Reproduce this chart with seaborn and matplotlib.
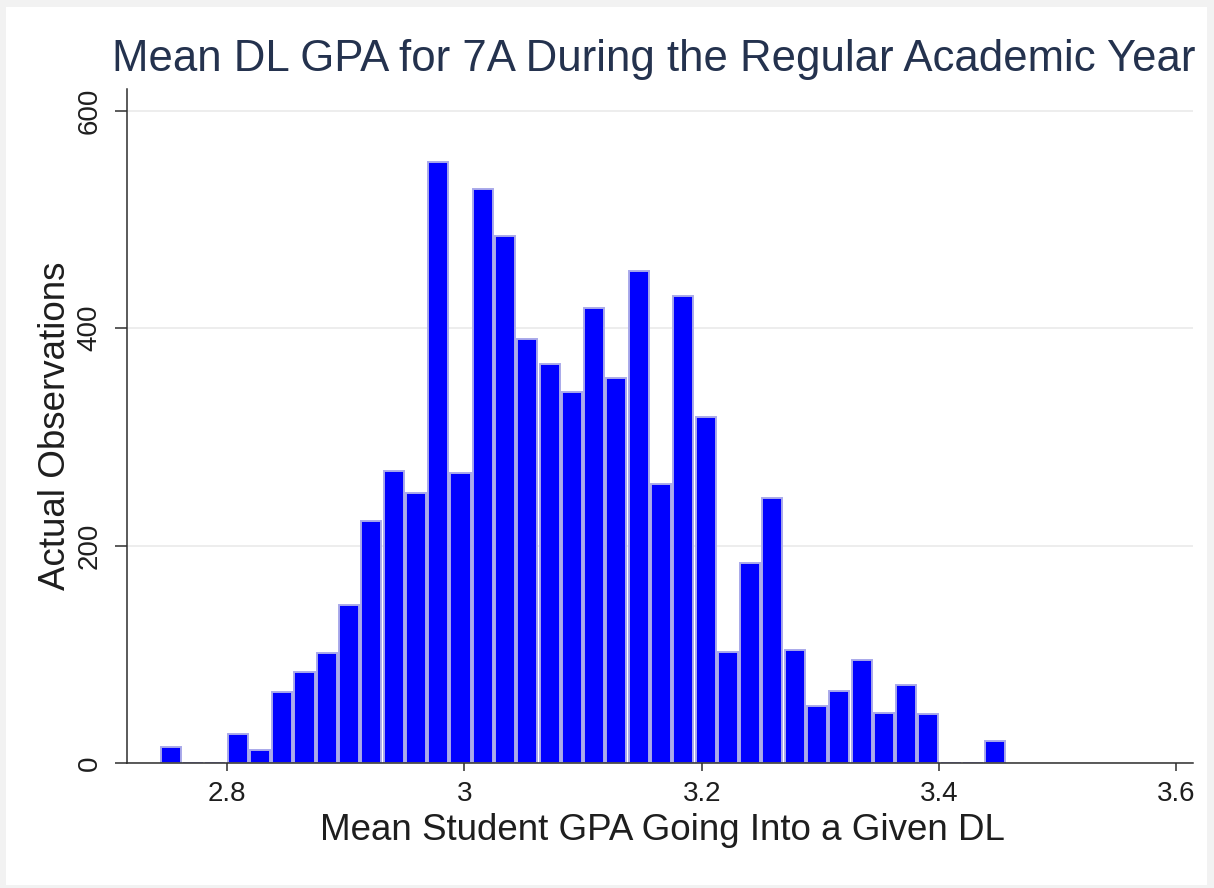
import numpy as np
import pandas as pd
import matplotlib
matplotlib.use("Agg")
import matplotlib.pyplot as plt
import seaborn as sns
from matplotlib.patches import Rectangle

# ---------------- data ----------------
title = "Mean DL GPA for 7A During the Regular Academic Year"
x_label = "Mean Student GPA Going Into a Given DL"
y_label = "Actual Observations"

bin_low = 2.7432
bin_high = 3.4568
n_bins = 38
counts = [15, 0, 0, 27, 12, 65, 84, 101, 145, 223, 269, 248, 553, 267, 528,
          485, 390, 367, 341, 419, 354, 453, 257, 430, 318, 102, 184, 244,
          104, 52, 66, 95, 46, 72, 45, 0, 0, 20]

x_ticks = [2.8, 3.0, 3.2, 3.4, 3.6]
x_tick_labels = ["2.8", "3", "3.2", "3.4", "3.6"]
y_ticks = [0, 200, 400, 600]
y_tick_labels = ["0", "200", "400", "600"]

edges = np.linspace(bin_low, bin_high, n_bins + 1)
centers = (edges[:-1] + edges[1:]) / 2
df = pd.DataFrame({"gpa": centers, "n": counts})

# ---------------- style ----------------
sns.set_theme(style="white")
plt.rcParams["font.family"] = ["Liberation Sans", "DejaVu Sans"]

W, H = 1214, 888
fig = plt.figure(figsize=(W / 100, H / 100), dpi=100, facecolor="#f2f2f2")
fig.patches.append(Rectangle((6 / W, 1 - 885 / H), (1207 - 6) / W, (885 - 7) / H,
                             transform=fig.transFigure, facecolor="white",
                             edgecolor="none", zorder=-10))

ax = fig.add_axes([127 / W, 1 - 763 / H, (1193 - 127) / W, (763 - 89) / H])
ax.set_facecolor("white")

sns.histplot(data=df, x="gpa", weights="n", bins=n_bins,
             binrange=(bin_low, bin_high), shrink=0.9,
             color="#0000ff", alpha=1, edgecolor="#a9a9ea", linewidth=1.4,
             ax=ax)

ax.set_xlim(2.7157, 3.614)
ax.set_ylim(0, 620)
ax.set_xticks(x_ticks)
ax.set_xticklabels(x_tick_labels)
ax.set_yticks(y_ticks)
ax.set_yticklabels(y_tick_labels, rotation=90, va="center")

ax.yaxis.grid(True, color="#e8e8e8", linewidth=1.1)
ax.xaxis.grid(False)
ax.set_axisbelow(True)

for s in ["top", "right"]:
    ax.spines[s].set_visible(False)
for s in ["left", "bottom"]:
    ax.spines[s].set_color("#2e2e2e")
    ax.spines[s].set_linewidth(1.1)

ax.tick_params(axis="x", direction="out", length=6, width=1.1, color="#2e2e2e",
               labelsize=20, labelcolor="#1e1e1e", pad=7, bottom=True)
ax.tick_params(axis="y", direction="out", length=8.5, width=1.1, color="#2e2e2e",
               labelsize=20, labelcolor="#1e1e1e", pad=9, left=True)

ax.set_xlabel(x_label, fontsize=26.5, color="#1e1e1e", va="center")
ax.xaxis.set_label_coords(0.502, (763 - 830) / (763 - 89))
ax.set_ylabel(y_label, fontsize=26.5, color="#1e1e1e", va="center")
ax.yaxis.set_label_coords((56 - 127) / (1193 - 127), 0.5)

fig.text(654 / W, 1 - 71.5 / H, title, ha="center", va="baseline",
         fontsize=31.5, color="#24324e")

fig.savefig("out.png", dpi=100, facecolor=fig.get_facecolor())
